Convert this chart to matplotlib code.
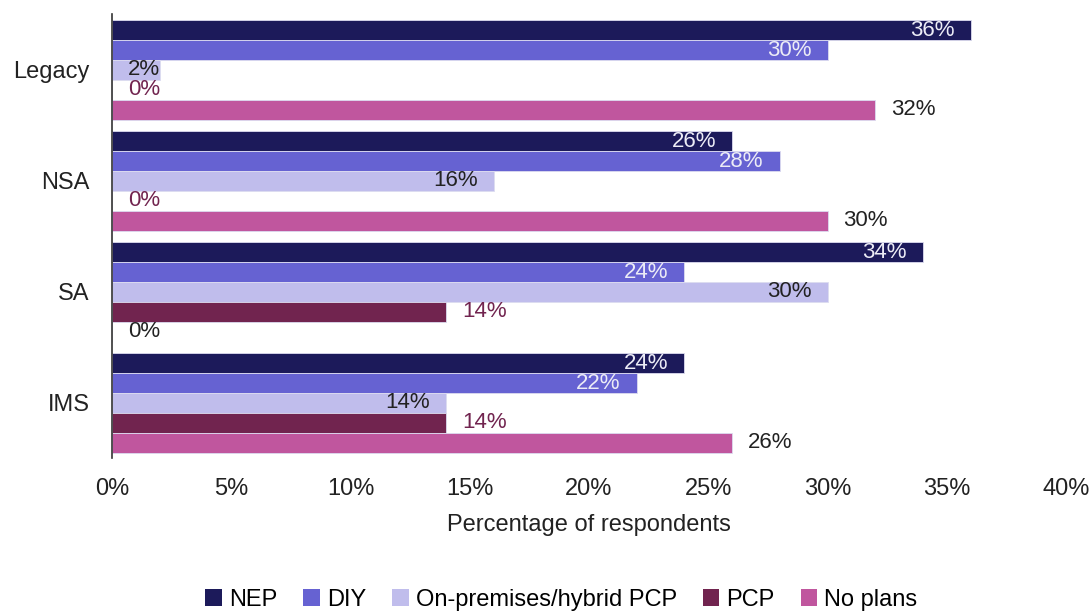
import matplotlib
matplotlib.use("Agg")
import matplotlib.pyplot as plt
from matplotlib.patches import Patch
import numpy as np

categories = ["Legacy", "NSA", "SA", "IMS"]
series_names = ["NEP", "DIY", "On-premises/hybrid PCP", "PCP", "No plans"]
nep = [36, 26, 34, 24]
diy = [30, 28, 24, 22]
onprem = [2, 16, 30, 14]
pcp = [0, 0, 14, 14]
no_plans = [32, 30, 0, 26]
x_ticks = [0, 5, 10, 15, 20, 25, 30, 35, 40]

colors = ["#1c1a5a", "#6662d2", "#c0bdec", "#71244f", "#c0569e"]
# where each series puts its value label, and in which colour
label_pos = ["in", "in", "in", "out", "out"]
label_colors = ["#ececf6", "#ececf6", "#222222", "#71244f", "#222222"]

plt.rcParams["font.family"] = ["Liberation Sans", "DejaVu Sans"]

fig = plt.figure(figsize=(10.92, 6.11), dpi=100)
ax = fig.add_axes([0.1026, 0.2496, 0.8736, 0.7267])

series = [nep, diy, onprem, pcp, no_plans]
y = np.arange(len(categories))
bar_h = 0.18
pad = 16  # px between bar end and its label

for i, (vals, color) in enumerate(zip(series, colors)):
    ypos = y - 2 * bar_h + i * bar_h
    ax.barh(ypos, vals, height=bar_h, color=color, edgecolor="#dcdcf0", linewidth=0.6)
    for yy, v in zip(ypos, vals):
        txt = f"{v}%"
        if v == 0 or (label_pos[i] == "in" and v < 5):
            ax.annotate(txt, (0, yy), xytext=(pad, 0), textcoords="offset pixels",
                        ha="left", va="center", fontsize=16, color=label_colors[i])
        elif label_pos[i] == "in":
            ax.annotate(txt, (v, yy), xytext=(-pad, 0), textcoords="offset pixels",
                        ha="right", va="center", fontsize=16, color=label_colors[i])
        else:
            ax.annotate(txt, (v, yy), xytext=(pad, 0), textcoords="offset pixels",
                        ha="left", va="center", fontsize=16, color=label_colors[i])

ax.set_xlim(0, 40)
ax.set_ylim(len(categories) - 0.5, -0.5)
ax.set_yticks(y)
ax.set_yticklabels(categories, fontsize=17, color="#222222")
ax.set_xticks(x_ticks)
ax.set_xticklabels([f"{t}%" for t in x_ticks], fontsize=17, color="#222222")
ax.tick_params(axis="both", length=0)
ax.tick_params(axis="y", pad=16)
ax.tick_params(axis="x", pad=14)
ax.set_xlabel("Percentage of respondents", fontsize=17, color="#222222", labelpad=10)

for s in ["top", "right", "bottom"]:
    ax.spines[s].set_visible(False)
ax.spines["left"].set_color("#333333")
ax.spines["left"].set_linewidth(1.2)

handles = [Patch(facecolor=c, label=n) for c, n in zip(colors, series_names)]
fig.legend(handles=handles, loc="lower center", bbox_to_anchor=(0.514, -0.034), ncol=5,
           frameon=False, fontsize=17, handlelength=0.7, handleheight=0.7,
           handletextpad=0.3, columnspacing=1.1)

fig.savefig("out.png", dpi=100)
